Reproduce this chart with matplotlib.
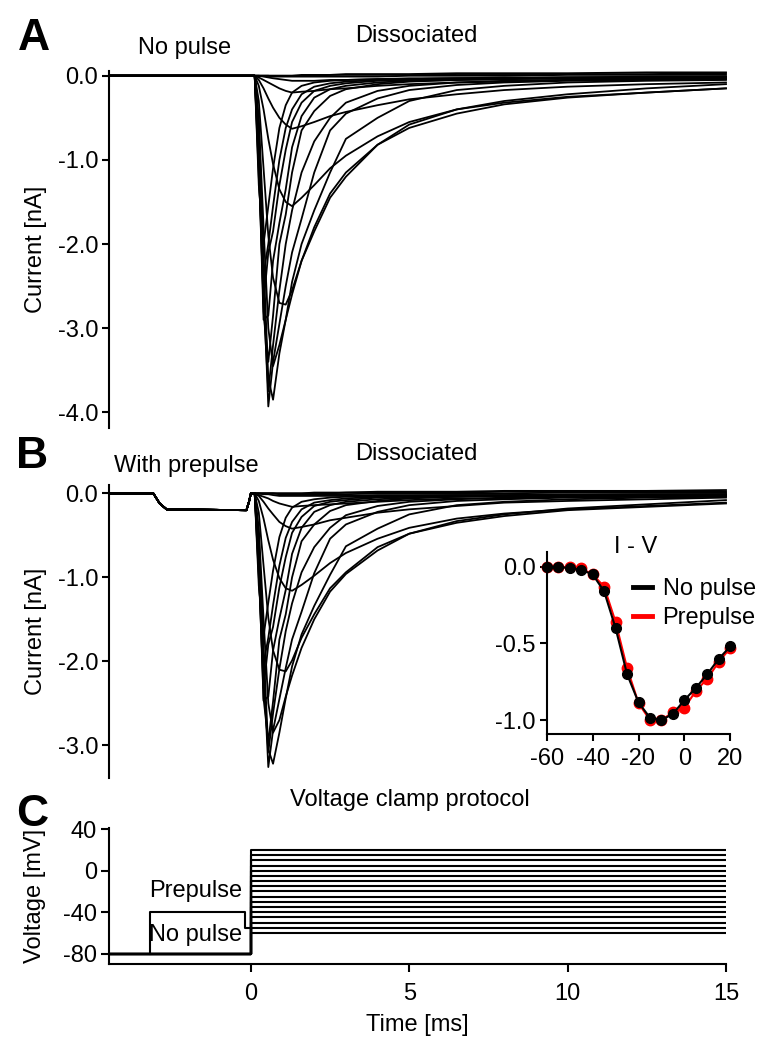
import numpy as np
import matplotlib
matplotlib.use("Agg")
import matplotlib.pyplot as plt
from matplotlib.ticker import FormatStrFormatter
from matplotlib.lines import Line2D

plt.rcParams['font.family'] = ['Liberation Sans', 'DejaVu Sans']
plt.rcParams['font.size'] = 17
plt.rcParams['axes.unicode_minus'] = False

W, H = 768, 1050

# test pulse voltages (mV), one current trace per step
test_mv = [-60, -55, -50, -45, -40, -35, -30, -25, -20, -15, -10, -5, 0, 5, 10, 15, 20]

t_knots = [0, 0.12, 0.25, 0.4, 0.55, 0.7, 0.9, 1.1, 1.3, 1.6, 2.0, 2.5, 3.0, 4.0, 5.0, 6.5, 8.0, 10.0, 12.5, 15.0]
t_start = -4.47

# panel A: no prepulse, current (nA) per test voltage
current_a = [
    [0, 0, 0, 0, 0, 0, 0, 0, 0, 0.01, 0.01, 0.01, 0.02, 0.02, 0.02, 0.03, 0.03, 0.03, 0.04, 0.04],
    [0, 0, 0, 0, 0, 0, 0, 0, 0, 0, 0, 0.01, 0.01, 0.01, 0.01, 0.02, 0.02, 0.02, 0.02, 0.03],
    [0, 0, 0, 0, 0, -0.01, -0.01, -0.01, -0.01, -0.01, -0.01, -0.01, -0.01, -0.01, 0, 0, 0, 0.01, 0.01, 0.01],
    [0, 0, 0, -0.01, -0.02, -0.03, -0.04, -0.05, -0.06, -0.06, -0.06, -0.05, -0.05, -0.04, -0.04, -0.03, -0.03, -0.02, -0.02, -0.02],
    [0, 0, -0.02, -0.05, -0.08, -0.11, -0.15, -0.18, -0.2, -0.19, -0.18, -0.16, -0.15, -0.12, -0.1, -0.08, -0.07, -0.05, -0.04, -0.04],
    [0, 0, -0.05, -0.15, -0.27, -0.38, -0.5, -0.58, -0.63, -0.6, -0.55, -0.48, -0.43, -0.35, -0.28, -0.22, -0.17, -0.13, -0.1, -0.08],
    [0, 0, -0.12, -0.4, -0.75, -1.05, -1.35, -1.5, -1.55, -1.45, -1.3, -1.1, -0.95, -0.72, -0.55, -0.4, -0.32, -0.25, -0.2, -0.15],
    [0, 0, -0.3, -1.1, -1.9, -2.4, -2.7, -2.72, -2.55, -2.2, -1.85, -1.45, -1.2, -0.82, -0.62, -0.45, -0.34, -0.26, -0.2, -0.15],
    [0, 0, -0.5, -1.8, -3.0, -3.45, -3.2, -2.9, -2.6, -2.2, -1.8, -1.4, -1.15, -0.82, -0.58, -0.4, -0.3, -0.22, -0.15, -0.1],
    [0, 0, -0.6, -2.2, -3.6, -3.85, -3.3, -2.9, -2.45, -2.0, -1.6, -1.15, -0.75, -0.5, -0.3, -0.17, -0.12, -0.08, -0.06, -0.05],
    [0, 0, -0.7, -2.5, -3.93, -3.4, -2.95, -2.5, -2.1, -1.7, -1.15, -0.65, -0.45, -0.27, -0.17, -0.11, -0.08, -0.06, -0.05, -0.04],
    [0, 0, -0.8, -2.7, -3.75, -3.2, -2.55, -2.0, -1.6, -1.15, -0.78, -0.5, -0.32, -0.18, -0.12, -0.08, -0.06, -0.05, -0.04, -0.03],
    [0, 0, -0.9, -2.8, -3.4, -2.85, -2.0, -1.65, -1.15, -0.65, -0.42, -0.24, -0.16, -0.1, -0.07, -0.05, -0.04, -0.03, -0.03, -0.02],
    [0, 0, -1.0, -2.9, -2.85, -2.2, -1.75, -1.35, -0.85, -0.48, -0.26, -0.16, -0.12, -0.08, -0.06, -0.05, -0.04, -0.03, -0.02, -0.02],
    [0, 0, -1.1, -2.7, -2.1, -1.85, -1.3, -0.88, -0.55, -0.32, -0.18, -0.12, -0.09, -0.06, -0.05, -0.04, -0.03, -0.03, -0.02, -0.02],
    [0, 0, -1.2, -2.36, -2.0, -1.55, -1.0, -0.62, -0.4, -0.22, -0.13, -0.09, -0.07, -0.05, -0.04, -0.03, -0.03, -0.02, -0.02, -0.01],
    [0, 0, -1.3, -2.0, -1.55, -1.1, -0.62, -0.35, -0.2, -0.12, -0.08, -0.06, -0.05, -0.04, -0.03, -0.03, -0.02, -0.02, -0.01, -0.01],
]

# panel B: with prepulse, current (nA) per test voltage
current_b = [
    [0, 0, 0, 0, 0, 0, 0, 0, 0, 0, 0.01, 0.01, 0.01, 0.02, 0.02, 0.02, 0.03, 0.03, 0.03, 0.04],
    [0, 0, 0, 0, 0, 0, 0, 0, 0, 0, 0, 0, 0.01, 0.01, 0.01, 0.01, 0.02, 0.02, 0.02, 0.02],
    [0, 0, 0, 0, 0, 0, -0.01, -0.01, -0.01, -0.01, -0.01, -0.01, -0.01, 0, 0, 0, 0, 0.01, 0.01, 0.01],
    [0, 0, 0, -0.01, -0.01, -0.02, -0.03, -0.03, -0.03, -0.03, -0.03, -0.03, -0.03, -0.02, -0.02, -0.02, -0.02, -0.01, -0.01, -0.01],
    [0, 0, -0.02, -0.04, -0.06, -0.09, -0.12, -0.14, -0.16, -0.15, -0.14, -0.13, -0.12, -0.1, -0.08, -0.06, -0.06, -0.04, -0.03, -0.03],
    [0, 0, -0.03, -0.1, -0.18, -0.25, -0.34, -0.39, -0.42, -0.4, -0.37, -0.32, -0.29, -0.23, -0.19, -0.15, -0.11, -0.09, -0.07, -0.05],
    [0, 0, -0.09, -0.3, -0.56, -0.79, -1.01, -1.13, -1.16, -1.09, -0.98, -0.83, -0.71, -0.54, -0.41, -0.3, -0.24, -0.19, -0.15, -0.11],
    [0, 0, -0.23, -0.86, -1.48, -1.87, -2.1, -2.12, -1.99, -1.72, -1.44, -1.13, -0.94, -0.64, -0.48, -0.35, -0.27, -0.2, -0.16, -0.12],
    [0, 0, -0.42, -1.5, -2.5, -2.85, -2.7, -2.42, -2.17, -1.84, -1.5, -1.17, -0.96, -0.68, -0.48, -0.33, -0.25, -0.18, -0.13, -0.08],
    [0, 0, -0.5, -1.85, -3.05, -3.22, -2.85, -2.44, -2.06, -1.68, -1.34, -0.97, -0.63, -0.42, -0.25, -0.14, -0.1, -0.07, -0.05, -0.04],
    [0, 0, -0.58, -2.08, -3.26, -2.82, -2.45, -2.08, -1.74, -1.41, -0.95, -0.54, -0.37, -0.22, -0.14, -0.09, -0.07, -0.05, -0.04, -0.03],
    [0, 0, -0.66, -2.21, -3.08, -2.62, -2.09, -1.64, -1.31, -0.94, -0.64, -0.41, -0.26, -0.15, -0.1, -0.07, -0.05, -0.04, -0.03, -0.02],
    [0, 0, -0.78, -2.44, -2.96, -2.48, -1.74, -1.44, -1.0, -0.57, -0.37, -0.21, -0.14, -0.09, -0.06, -0.04, -0.03, -0.03, -0.03, -0.02],
    [0, 0, -0.85, -2.47, -2.42, -1.87, -1.49, -1.15, -0.72, -0.41, -0.22, -0.14, -0.1, -0.07, -0.05, -0.04, -0.03, -0.03, -0.02, -0.02],
    [0, 0, -0.95, -2.32, -1.8, -1.59, -1.12, -0.76, -0.47, -0.28, -0.15, -0.1, -0.08, -0.05, -0.04, -0.03, -0.03, -0.03, -0.02, -0.02],
    [0, 0, -1.0, -2.02, -1.72, -1.33, -0.86, -0.53, -0.34, -0.19, -0.11, -0.08, -0.06, -0.04, -0.03, -0.03, -0.03, -0.02, -0.02, -0.01],
    [0, 0, -1.1, -1.7, -1.3, -0.92, -0.52, -0.29, -0.17, -0.1, -0.07, -0.05, -0.04, -0.03, -0.03, -0.02, -0.02, -0.02, -0.01, -0.01],
]

# prepulse segment of panel B (same for every sweep)
t_pre_b = [-4.47, -3.08, -2.88, -2.66, -0.14, -0.06, 0.0]
i_pre_b = [0, 0, -0.12, -0.19, -0.2, -0.1, 0.0]

# I-V inset, normalised peak current
iv_nopulse = [0.0, 0.0, -0.01, -0.02, -0.05, -0.16, -0.40, -0.70, -0.885, -0.985, -1.0, -0.96, -0.87, -0.79, -0.70, -0.60, -0.52]
iv_prepulse = [0.0, 0.0, -0.005, -0.01, -0.05, -0.13, -0.36, -0.66, -0.89, -1.0, -1.0, -0.95, -0.92, -0.81, -0.73, -0.62, -0.53]

# voltage protocol
hold_mv = -80
prepulse_t = [-3.2, -3.2, -0.2, -0.2, 0.0]
prepulse_mv = [-80, -40, -40, -55, -55]
t_end = 15


def fig_rect(x0, y0, x1, y1):
    return [x0 / W, 1 - y1 / H, (x1 - x0) / W, (y1 - y0) / H]


def style_left(ax):
    for s in ['top', 'right', 'bottom']:
        ax.spines[s].set_visible(False)
    ax.spines['left'].set_linewidth(1.5)
    ax.tick_params(axis='y', width=1.5, length=5, pad=3)
    ax.set_xticks([])


fig = plt.figure(figsize=(W / 100, H / 100), dpi=100)

# ---- panel A
axA = fig.add_axes(fig_rect(109.3, 70.7, 726, 428.3))
for row in current_a:
    t = [t_start] + t_knots
    y = [0] + row
    axA.plot(t, y, color='black', lw=1.3, clip_on=False)
axA.set_xlim(t_start, 15)
axA.set_ylim(-4.19, 0.06)
axA.set_yticks([0, -1, -2, -3, -4])
axA.yaxis.set_major_formatter(FormatStrFormatter('%.1f'))
style_left(axA)
axA.set_ylabel('Current [nA]', labelpad=8)

# ---- panel B
axB = fig.add_axes(fig_rect(109.3, 485, 726, 778))
for row in current_b:
    t = t_pre_b + t_knots[1:]
    y = i_pre_b + row[1:]
    axB.plot(t, y, color='black', lw=1.3, clip_on=False)
axB.set_xlim(t_start, 15)
axB.set_ylim(-3.39, 0.1)
axB.set_yticks([0, -1, -2, -3])
axB.yaxis.set_major_formatter(FormatStrFormatter('%.1f'))
style_left(axB)
axB.set_ylabel('Current [nA]', labelpad=8)

# ---- inset I-V
axI = fig.add_axes(fig_rect(546.7, 551.7, 730.3, 734.3))
axI.plot(test_mv, iv_prepulse, color='red', lw=1.5, marker='o', ms=7.5, zorder=2)
axI.plot(test_mv, iv_nopulse, color='black', lw=1.5, marker='o', ms=7, zorder=3)
axI.set_xlim(-60, 20)
axI.set_ylim(-1.093, 0.098)
axI.set_xticks([-60, -40, -20, 0, 20])
axI.set_yticks([0, -0.5, -1.0])
axI.yaxis.set_major_formatter(FormatStrFormatter('%.1f'))
for s in ['top', 'right']:
    axI.spines[s].set_visible(False)
for s in ['left', 'bottom']:
    axI.spines[s].set_linewidth(1.5)
axI.tick_params(width=1.5, length=5)
axI.tick_params(axis='x', pad=5)
axI.tick_params(axis='y', pad=3)
for ln in axI.lines:
    ln.set_clip_on(False)
handles = [Line2D([], [], color='black', lw=3.5), Line2D([], [], color='red', lw=3.5)]
fig.legend(handles, ['No pulse', 'Prepulse'], loc='upper left',
           bbox_to_anchor=(633 / W, 1 - 578 / H), frameon=False,
           borderpad=0, borderaxespad=0, handlelength=0.8, handletextpad=0.45,
           labelspacing=0.3)
fig.text(636 / W, 1 - 547 / H, 'I - V', ha='center', va='center')

# ---- panel C
axC = fig.add_axes(fig_rect(109.3, 828.3, 726, 964))
for v in test_mv:
    axC.plot([t_start, 0, 0, t_end], [hold_mv, hold_mv, v, v], color='black', lw=1.5)
axC.plot(prepulse_t, prepulse_mv, color='black', lw=1.5)
axC.set_xlim(t_start, 15)
axC.set_ylim(-90, 41)
axC.set_xticks([0, 5, 10, 15])
axC.set_yticks([40, 0, -40, -80])
for s in ['top', 'right']:
    axC.spines[s].set_visible(False)
for s in ['left', 'bottom']:
    axC.spines[s].set_linewidth(1.5)
axC.tick_params(width=1.5, length=6)
axC.tick_params(axis='x', pad=8)
axC.tick_params(axis='y', pad=3)
axC.set_ylabel('Voltage [mV]', labelpad=12)
axC.set_xlabel('Time [ms]', labelpad=6)
axC.text(-1.75, -20, 'Prepulse', ha='center', va='center')
axC.text(-1.75, -62, 'No pulse', ha='center', va='center')

# ---- labels
fig.text(34 / W, 1 - 38 / H, 'A', fontsize=32, fontweight='bold', ha='center', va='center')
fig.text(32 / W, 1 - 456 / H, 'B', fontsize=32, fontweight='bold', ha='center', va='center')
fig.text(32 / W, 1 - 814 / H, 'C', fontsize=32, fontweight='bold', ha='center', va='center')
fig.text(185 / W, 1 - 48 / H, 'No pulse', ha='center', va='center')
fig.text(416 / W, 1 - 36 / H, 'Dissociated', ha='center', va='center')
fig.text(186 / W, 1 - 466 / H, 'With prepulse', ha='center', va='center')
fig.text(416 / W, 1 - 454 / H, 'Dissociated', ha='center', va='center')
fig.text(410 / W, 1 - 800 / H, 'Voltage clamp protocol', ha='center', va='center')

fig.savefig('out.png', dpi=100)
